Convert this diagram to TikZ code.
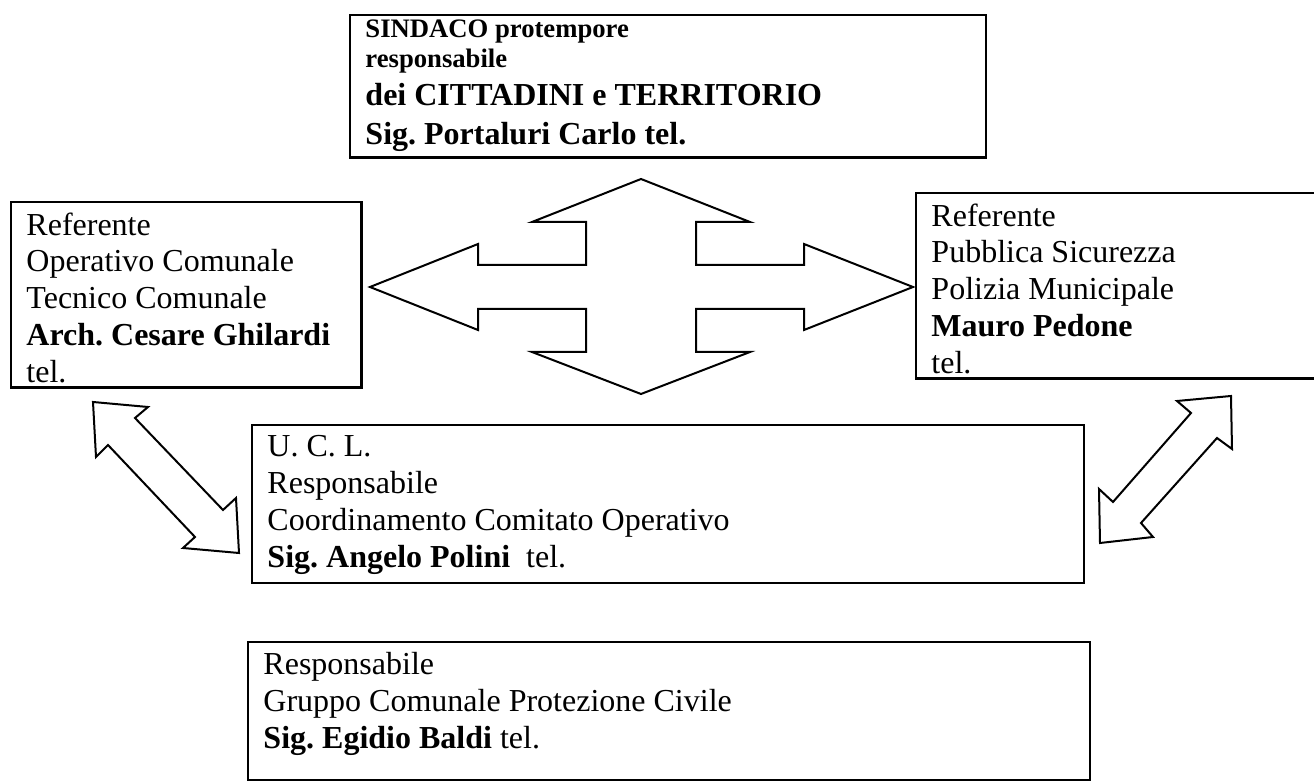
\documentclass[tikz,border=0pt]{standalone}
\usepackage{fontspec}
\setmainfont{Liberation Serif}
\frenchspacing
\usepackage{tikz}
\usetikzlibrary{positioning}
\tikzstyle{box}=[rectangle, draw, line width=1.1pt, anchor=north west, inner sep=0pt, outer sep=0pt]
\tikzstyle{txt}=[inner sep=0pt, align=left, anchor=north west, font=\fontsize{12pt}{13.8pt}\selectfont]
\tikzstyle{head}=[inner sep=0pt, align=left, anchor=north west, font=\bfseries\fontsize{12pt}{14.5pt}\selectfont]
\tikzstyle{blockarrow}=[draw, line width=0.75pt, line join=miter]

\begin{document}
\begin{tikzpicture}[x=0.375pt, y=-0.375pt]
	\useasboundingbox (0,0) rectangle (1314,782);

	%The top box
	\draw (350,15) node[box, minimum width=238.5pt, minimum height=53.6pt] (sindaco) {};
	\node[head, below right=1.6pt and 5.6pt of sindaco.north west] (sindacotxt) {{\fontsize{10pt}{12pt}\selectfont SINDACO protempore}\\[-3.3pt]{\fontsize{10pt}{12pt}\selectfont responsabile}\\dei CITTADINI e TERRITORIO\\Sig. Portaluri Carlo tel.};

	%The side boxes
	\draw (11,202) node[box, minimum width=131.6pt, minimum height=69.4pt] (refop) {};
	\node[txt, below right=3.8pt and 5.6pt of refop.north west] (refoptxt) {Referente\\Operativo Comunale\\Tecnico Comunale\\\textbf{Arch. Cesare Ghilardi}\\tel.};

	\draw (916,193) node[box, minimum width=157.5pt, minimum height=69.4pt] (refps) {};
	\node[txt, below right=3.8pt and 5.6pt of refps.north west] (refpstxt) {Referente\\Pubblica Sicurezza\\Polizia Municipale\\\textbf{Mauro Pedone}\\tel.};

	%The U.C.L. box
	\draw (252,425) node[box, minimum width=312pt, minimum height=59.25pt] (ucl) {};
	\node[txt, below right=3.8pt and 5.6pt of ucl.north west] (ucltxt) {U. C. L.\\Responsabile\\Coordinamento Comitato Operativo\\\textbf{Sig. Angelo Polini}~ tel.};

	%The bottom box
	\draw (248,642) node[box, minimum width=315.75pt, minimum height=51.75pt] (gcpc) {};
	\node[txt, below right=3.8pt and 5.6pt of gcpc.north west] (gcpctxt) {Responsabile\\Gruppo Comunale Protezione Civile\\\textbf{Sig. Egidio Baldi} tel.};

	%The four way arrow
	\draw[blockarrow] (641,179) -- (750,222) -- (696,222) -- (696,265) -- (804,265) -- (804,244)
		-- (913,287) -- (804,330) -- (804,309) -- (696,309) -- (696,352) -- (750,352)
		-- (641,394) -- (532,352) -- (586,352) -- (586,309) -- (478,309) -- (478,330)
		-- (370,287) -- (478,244) -- (478,265) -- (586,265) -- (586,222) -- (532,222) -- cycle;

	%The diagonal arrows
	\draw[blockarrow] (93,402) -- (148,407) -- (135,418) -- (223,510) -- (236,498) -- (239,553)
		-- (183,548) -- (195,537) -- (108,445) -- (96,457) -- cycle;
	\draw[blockarrow] (1231,396) -- (1232,449) -- (1217,438) -- (1141,523) -- (1153,537) -- (1100,543)
		-- (1099,489) -- (1113,502) -- (1191,413) -- (1177,401) -- cycle;
\end{tikzpicture}
\end{document}
